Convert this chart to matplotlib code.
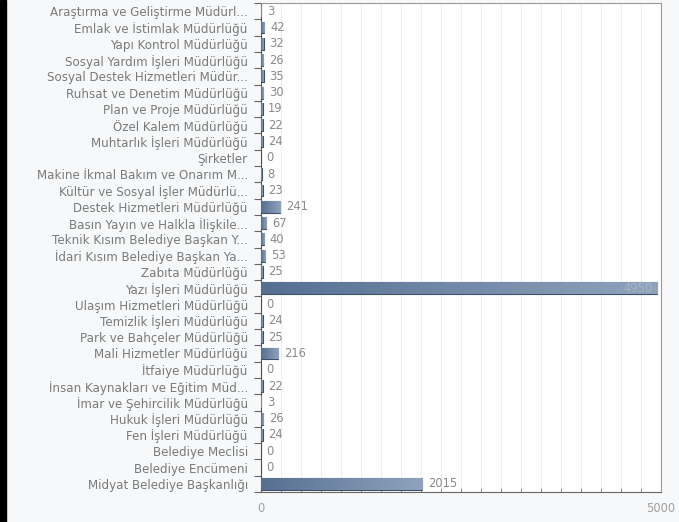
import matplotlib
matplotlib.use("Agg")
import matplotlib.pyplot as plt
import numpy as np

# categories from top to bottom
categories = [
    "Araştırma ve Geliştirme Müdürl...",
    "Emlak ve İstimlak Müdürlüğü",
    "Yapı Kontrol Müdürlüğü",
    "Sosyal Yardım İşleri Müdürlüğü",
    "Sosyal Destek Hizmetleri Müdür...",
    "Ruhsat ve Denetim Müdürlüğü",
    "Plan ve Proje Müdürlüğü",
    "Özel Kalem Müdürlüğü",
    "Muhtarlık İşleri Müdürlüğü",
    "Şirketler",
    "Makine İkmal Bakım ve Onarım M...",
    "Kültür ve Sosyal İşler Müdürlü...",
    "Destek Hizmetleri Müdürlüğü",
    "Basın Yayın ve Halkla İlişkile...",
    "Teknik Kısım Belediye Başkan Y...",
    "İdari Kısım Belediye Başkan Ya...",
    "Zabıta Müdürlüğü",
    "Yazı İşleri Müdürlüğü",
    "Ulaşım Hizmetleri Müdürlüğü",
    "Temizlik İşleri Müdürlüğü",
    "Park ve Bahçeler Müdürlüğü",
    "Mali Hizmetler Müdürlüğü",
    "İtfaiye Müdürlüğü",
    "İnsan Kaynakları ve Eğitim Müd...",
    "İmar ve Şehircilik Müdürlüğü",
    "Hukuk İşleri Müdürlüğü",
    "Fen İşleri Müdürlüğü",
    "Belediye Meclisi",
    "Belediye Encümeni",
    "Midyat Belediye Başkanlığı",
]
values = [3, 42, 32, 26, 35, 30, 19, 22, 24, 0, 8, 23, 241, 67, 40, 53, 25,
          4950, 0, 24, 25, 216, 0, 22, 3, 26, 24, 0, 0, 2015]
x_max = 5000

txt = "#8a8a8a"
fig = plt.figure(figsize=(6.79, 5.22), dpi=100, facecolor="#f7f8f9")
# black strip on the left edge of the screenshot
fig.patches.append(plt.Rectangle((0, 0), 6 / 679, 1, transform=fig.transFigure,
                                 color="black", zorder=0))
ax = fig.add_axes([261 / 679, 30 / 522, 400 / 679, 489 / 522])
ax.set_facecolor("white")

n = len(categories)
y = np.arange(n)
bars = ax.barh(y, values, height=0.72, color="#6f87a6", edgecolor="#3e4f66",
               linewidth=0.8, zorder=3)

# horizontal gradient inside each bar, dark on the left
grad = np.linspace(0, 1, 256).reshape(1, -1)
cmap = matplotlib.colors.LinearSegmentedColormap.from_list("b", ["#566f91", "#8fa3bd"])
for b, v in zip(bars, values):
    if v <= 0:
        continue
    x0, y0 = b.get_x(), b.get_y()
    im = ax.imshow(grad, extent=[x0, x0 + v, y0, y0 + b.get_height()],
                   aspect="auto", cmap=cmap, zorder=3.5)
    im.set_clip_path(b)

for yi, v in zip(y, values):
    if v > 0.8 * x_max:
        ax.text(v - 60, yi, str(v), ha="right", va="center", fontsize=8.3,
                color="#a9b6c6", zorder=5)
    else:
        ax.text(v + 70, yi, str(v), ha="left", va="center", fontsize=8.3,
                color=txt, zorder=5)

ax.set_xlim(0, x_max)
ax.set_ylim(n - 0.5, -0.5)
ax.set_yticks(y)
ax.set_yticklabels(categories, fontsize=8.6, color="#7a7a7a")
ax.tick_params(axis="y", length=0, pad=9.5)
ax.set_yticks(np.arange(n + 1) - 0.5, minor=True)
ax.tick_params(axis="y", which="minor", length=5, color="#666666", width=0.8)

ax.set_xticks([0, x_max])
ax.set_xticklabels(["0", "5000"], fontsize=8.3, color="#a0a0a0")
ax.set_xticks(np.arange(0, x_max + 1, 250), minor=True)
ax.tick_params(axis="x", which="major", length=0, pad=7)
ax.tick_params(axis="x", which="minor", length=3, color="#777777", direction="in")
ax.xaxis.grid(True, which="minor", color="#eeeeee", linewidth=0.8, zorder=0)
ax.set_axisbelow(True)

for s in ["top", "right", "bottom"]:
    ax.spines[s].set_color("#999999")
ax.spines["left"].set_color("#555555")
ax.spines["bottom"].set_color("#666666")

fig.savefig("out.png", dpi=100, facecolor=fig.get_facecolor())
